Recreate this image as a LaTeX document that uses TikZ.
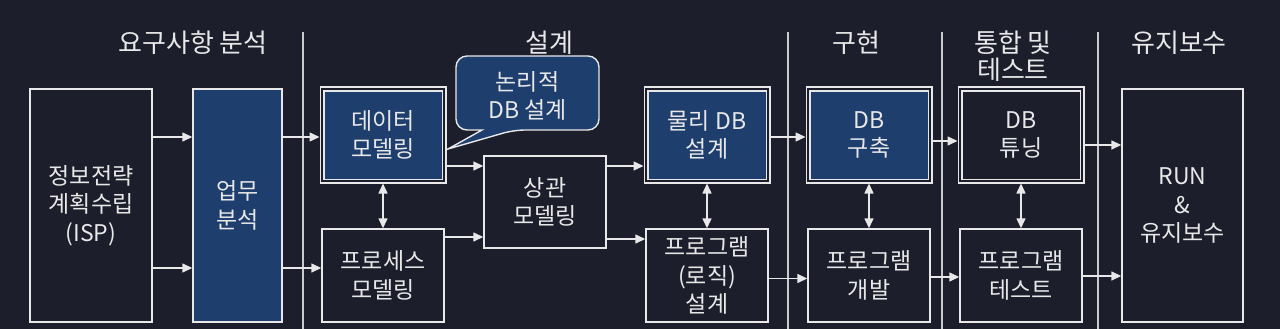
\documentclass[tikz,border=0pt]{standalone}
\usepackage{fontspec}
\setmainfont{Noto Sans CJK KR}
\usetikzlibrary{arrows.meta}
\definecolor{bg}{HTML}{1C1F2B}
\definecolor{boxblue}{HTML}{1E3E6E}
\definecolor{fg}{HTML}{E8E8E8}
\begin{document}
\begin{tikzpicture}[x=1pt,y=-1pt,
  box/.style={draw=fg, line width=1.4pt, text=fg, align=center,
    font=\fontsize{23}{28.5}\selectfont, inner sep=0pt,
    minimum width=122pt, minimum height=92pt},
  tallbox/.style={box, minimum height=233pt},
  dbox/.style={box, line width=1.3pt, double=bg, double distance=2.4pt, outer sep=2.5pt},
  bluefill/.style={fill=boxblue},
  title/.style={text=fg, align=center, font=\fontsize{26}{27}\selectfont, inner sep=0pt},
  arr/.style={draw=fg, line width=1.4pt, -{Triangle[length=10pt,width=9pt]}},
  biarr/.style={draw=fg, line width=1.4pt, {Triangle[length=10pt,width=9pt]}-{Triangle[length=10pt,width=9pt]}},
  divider/.style={draw=fg!85!bg, line width=1.3pt}
]
\fill[bg] (0,0) rectangle (1280,329);
\useasboundingbox (0,0) rectangle (1280,329);

% phase titles
\node[title] (t1) at (193,43) {요구사항 분석};
\node[title] (t2) at (549,43) {설계};
\node[title] (t3) at (856,43) {구현};
\node[title] (t4) at (1013,56.5) {통합 및\\테스트};
\node[title] (t5) at (1179,43) {유지보수};

% dividers
\coordinate (d1a) at (303,32); \coordinate (d1b) at (303,329);
\coordinate (d2a) at (788,32); \coordinate (d2b) at (788,329);
\coordinate (d3a) at (942,32); \coordinate (d3b) at (942,329);
\coordinate (d4a) at (1098,32); \coordinate (d4b) at (1098,329);
\draw[divider] (d1a) -- (d1b);
\draw[divider] (d2a) -- (d2b);
\draw[divider] (d3a) -- (d3b);
\draw[divider] (d4a) -- (d4b);

% callout
\draw[fg, line width=1.4pt, fill=boxblue, rounded corners=11pt]
  (482,130) -- (456,130) -- (456,56) -- (599,56) -- (599,130) -- (514,130)
  [sharp corners] -- (448,149) -- cycle;
\node[title, font=\fontsize{23}{28}\selectfont] (call) at (527.5,96) {논리적\\DB 설계};

% boxes
\node[tallbox, minimum width=122pt] (isp) at (91,205.5) {정보전략\\계획수립\\(ISP)};
\node[tallbox, bluefill, minimum width=89pt] (biz) at (237.5,205.5) {업무\\분석};
\node[dbox, bluefill] (dm) at (383,135) {데이터\\모델링};
\node[box, minimum height=93pt] (pm) at (383,275.5) {프로세스\\모델링};
\node[box] (cm) at (545,202) {상관\\모델링};
\node[dbox, bluefill] (pdb) at (707,135) {물리 DB\\설계};
\node[box, minimum height=93pt] (lg) at (707,275.5) {프로그램\\(로직)\\설계};
\node[dbox, bluefill] (bld) at (869,135) {DB\\구축};
\node[box, minimum height=93pt] (dev) at (869,275.5) {프로그램\\개발};
\node[dbox] (tun) at (1021,135) {DB\\튜닝};
\node[box, minimum height=93pt] (tst) at (1021,275.5) {프로그램\\테스트};
\node[tallbox, minimum width=121pt] (run) at (1182.5,205.5) {RUN\\\&\\유지보수};

% arrow heights
\coordinate (y137) at (0,137);
\coordinate (y268) at (0,268);
\coordinate (y166) at (0,166);
\coordinate (y237) at (0,237);
\coordinate (y239) at (0,239);
\coordinate (y141) at (0,141);
\coordinate (y145) at (0,145);
\coordinate (y278) at (0,278.5);
\coordinate (y277) at (0,277);
\coordinate (y276) at (0,276);

% connectors
\draw[arr] (isp.east |- y137) -- (biz.west |- y137);
\draw[arr] (isp.east |- y268) -- (biz.west |- y268);
\draw[arr] (biz.east |- y137) -- (dm.west |- y137);
\draw[arr] (biz.east |- y268) -- (pm.west |- y268);
\draw[arr] (dm.east |- y166) -- (cm.west |- y166);
\draw[arr] (pm.east |- y237) -- (cm.west |- y237);
\draw[arr] (cm.east |- y166) -- (pdb.west |- y166);
\draw[arr] (cm.east |- y239) -- (lg.west |- y239);
\draw[arr] (pdb.east |- y137) -- (bld.west |- y137);
\draw[arr] (bld.east |- y141) -- (tun.west |- y141);
\draw[arr] (tun.east |- y145) -- (run.west |- y145);
\draw[arr] (lg.east |- y278) -- (dev.west |- y278);
\draw[arr] (dev.east |- y277) -- (tst.west |- y277);
\draw[arr] (tst.east |- y276) -- (run.west |- y276);
\draw[biarr] (dm.south) -- (pm.north);
\draw[biarr] (pdb.south) -- (lg.north);
\draw[biarr] (bld.south) -- (dev.north);
\draw[biarr] (tun.south) -- (tst.north);
\end{tikzpicture}
\end{document}
